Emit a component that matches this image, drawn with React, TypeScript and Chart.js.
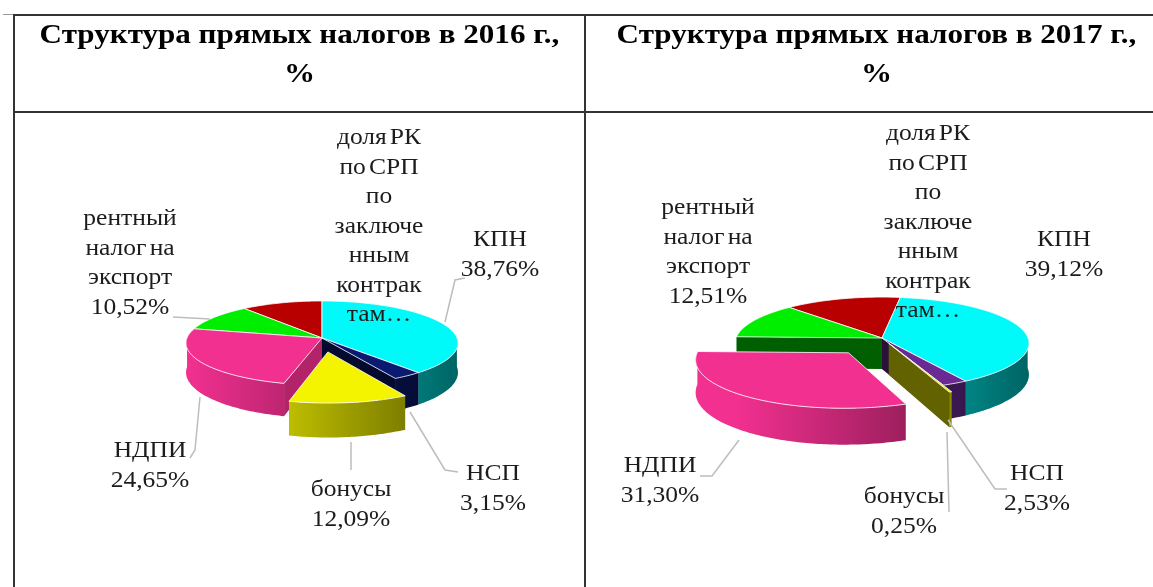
import React, { useEffect, useRef } from "react";
import { Chart, registerables } from "chart.js";

Chart.register(...registerables);

const categories = ["КПН", "НСП", "бонусы", "НДПИ", "рентный налог на экспорт", "доля РК по СРП по заключенным контрактам"];
const values2016 = [38.76, 3.15, 12.09, 24.65, 10.52, 10.83];
const values2017 = [39.12, 2.53, 0.25, 31.3, 12.51, 14.29];
const colors2016 = ["#00FAFA", "#0A1A70", "#F4F400", "#F23090", "#00EE00", "#B80000"];
const colors2017 = ["#00FAFA", "#6A2A94", "#F4F400", "#F23090", "#00EE00", "#B80000"];
const offsets2016 = [0, 0, 44, 0, 0, 0];
const offsets2017 = [0, 0, 18, 56, 0, 0];
const labelLines2016 = [
  ["КПН", "38,76%"],
  ["НСП", "3,15%"],
  ["бонусы", "12,09%"],
  ["НДПИ", "24,65%"],
  ["рентный", "налог на", "экспорт", "10,52%"],
  ["доля РК", "по СРП", "по", "заключе", "нным", "контрак", "там…"],
];
const labelLines2017 = [
  ["КПН", "39,12%"],
  ["НСП", "2,53%"],
  ["бонусы", "0,25%"],
  ["НДПИ", "31,30%"],
  ["рентный", "налог на", "экспорт", "12,51%"],
  ["доля РК", "по СРП", "по", "заключе", "нным", "контрак", "там…"],
];

// Canvas-relative placement of the labels: centre x, first line centre y.
const labelPos2016 = [[486, 127], [479, 361], [337, 377], [136, 338], [116, 106], [365, 25]];
const labelPos2017 = [[478, 127], [451, 361], [318, 384], [74, 353], [122, 95], [342, 21]];
const leaders2016 = [
  [[431, 209], [441, 167], [451, 165]],
  [[396, 299], [431, 357], [444, 359]],
  [[337, 329], [337, 357]],
  [[186, 284], [181, 337], [176, 345]],
  [[159, 204], [196, 206]],
];
const leaders2017 = [
  [[362, 307], [409, 376], [421, 376]],
  [[361, 319], [363, 399]],
  [[153, 327], [126, 363], [114, 363]],
];

type Cfg = {
  values: number[];
  colors: string[];
  offsets: number[];
  lines: string[][];
  pos: number[][];
  leaders: number[][][];
  radius: number;
  rotation: number;
  persp: number;
  tilt: number;
  depth: number;
  padLeft: number;
  padBottom: number;
};

const cfg2016: Cfg = {
  values: values2016, colors: colors2016, offsets: offsets2016, lines: labelLines2016,
  pos: labelPos2016, leaders: leaders2016, radius: 135, rotation: 0, persp: 0.119, tilt: 0.307,
  depth: 29, padLeft: 45, padBottom: 24,
};
const cfg2017: Cfg = {
  values: values2017, colors: colors2017, offsets: offsets2017, lines: labelLines2017,
  pos: labelPos2017, leaders: leaders2017, radius: 146, rotation: 8, persp: 0.113, tilt: 0.312,
  depth: 31, padLeft: 25, padBottom: 24,
};

const shade = (hex: string, b: number) => {
  const n = parseInt(hex.slice(1), 16);
  const c = [(n >> 16) & 255, (n >> 8) & 255, n & 255].map((v) => Math.round(v * b));
  return `rgb(${c[0]},${c[1]},${c[2]})`;
};

const pie3d = (c: Cfg) => ({
  id: "pie3d",
  beforeDatasetDraw(chart: any) {
    const ctx: CanvasRenderingContext2D = chart.ctx;
    const arcs: any[] = chart.getDatasetMeta(0).data;
    const items = arcs.map((a, i) => {
      const mid = (a.startAngle + a.endAngle) / 2;
      const off = a.options.offset || 0;
      return { a, i, mid, ox: Math.cos(mid) * off, oy: Math.sin(mid) * off };
    });
    items.sort((p, q) => Math.sin(p.mid) - Math.sin(q.mid));
    const project = (a: any, X: number, Y: number, d: number) => {
      const s = 1 / (1 - (c.persp * Y) / a.outerRadius);
      return [a.x + X * s, a.y + Y * c.tilt * s + d * s];
    };
    const poly = (pts: number[][], fill: any) => {
      ctx.beginPath();
      pts.forEach((p, k) => (k ? ctx.lineTo(p[0], p[1]) : ctx.moveTo(p[0], p[1])));
      ctx.closePath();
      ctx.fillStyle = fill;
      ctx.fill();
    };
    ctx.save();
    for (const { a, i, ox, oy } of items) {
      const R = a.outerRadius;
      const col = c.colors[i];
      const steps = Math.max(2, Math.ceil(((a.endAngle - a.startAngle) * 180) / Math.PI));
      const angles: number[] = [];
      for (let k = 0; k <= steps; k++) angles.push(a.startAngle + ((a.endAngle - a.startAngle) * k) / steps);
      const rim = (t: number, d: number) => project(a, ox + R * Math.cos(t), oy + R * Math.sin(t), d);
      const apexTop = project(a, ox, oy, 0);
      const apexBot = project(a, ox, oy, c.depth);

      // radial cut faces
      const face = (t: number, normal: number) => {
        if (Math.sin(normal) <= 0) return;
        const lit = Math.max(0, Math.cos(normal));
        poly([apexTop, rim(t, 0), rim(t, c.depth), apexBot], shade(col, 0.4 + 0.35 * lit));
      };
      face(a.startAngle, a.startAngle - Math.PI / 2);
      face(a.endAngle, a.endAngle + Math.PI / 2);

      // outer wall, front half only
      const front = angles.filter((t) => Math.sin(t) > -0.02);
      if (front.length > 1) {
        const grad = ctx.createLinearGradient(a.x - R, 0, a.x + R, 0);
        grad.addColorStop(0, shade(col, 1));
        grad.addColorStop(1, shade(col, 0.4));
        poly([...front.map((t) => rim(t, 0)), ...front.slice().reverse().map((t) => rim(t, c.depth))], grad);
      }

      // top face
      const top = [apexTop, ...angles.map((t) => rim(t, 0))];
      poly(top, col);
      ctx.strokeStyle = "rgba(255,255,255,0.8)";
      ctx.lineWidth = 1;
      ctx.stroke();
    }
    ctx.restore();
    return false;
  },
  afterDraw(chart: any) {
    const ctx: CanvasRenderingContext2D = chart.ctx;
    ctx.save();
    ctx.strokeStyle = "#bdbdbd";
    ctx.lineWidth = 1.5;
    for (const pts of c.leaders) {
      ctx.beginPath();
      pts.forEach((p, k) => (k ? ctx.lineTo(p[0], p[1]) : ctx.moveTo(p[0], p[1])));
      ctx.stroke();
    }
    ctx.fillStyle = "#1c1c1c";
    ctx.font = "23px 'Liberation Serif'";
    (ctx as any).wordSpacing = "-3px";
    ctx.textAlign = "center";
    ctx.textBaseline = "middle";
    c.lines.forEach((lines, i) => {
      lines.forEach((t, k) => {
        ctx.save();
        ctx.translate(c.pos[i][0], c.pos[i][1] + k * 29.5);
        ctx.scale(1.11, 1);
        ctx.fillText(t, 0, 0);
        ctx.restore();
      });
    });
    ctx.restore();
  },
});

function Pie({ c, left, width }: { c: Cfg; left: number; width: number }) {
  const ref = useRef<HTMLCanvasElement>(null);
  useEffect(() => {
    const chart = new Chart(ref.current as HTMLCanvasElement, {
      type: "pie",
      data: {
        labels: categories,
        datasets: [{ data: c.values, backgroundColor: c.colors, offset: c.offsets, borderWidth: 0 }],
      },
      options: {
        animation: false,
        responsive: false,
        rotation: c.rotation,
        radius: c.radius,
        layout: { padding: { left: c.padLeft, bottom: c.padBottom } },
        plugins: { legend: { display: false }, tooltip: { enabled: false } },
      } as any,
      plugins: [pie3d(c)],
    });
    return () => chart.destroy();
  }, [c]);
  return <canvas ref={ref} width={width} height={474} style={{ position: "absolute", left, top: 113, width, height: 474 }} />;
}

const line = (left: number, top: number, width: number, height: number, bg = "#333"): React.CSSProperties => ({
  position: "absolute", left, top, width, height, background: bg,
});
const title = (left: number, width: number): React.CSSProperties => ({
  position: "absolute", left, width, top: 14, textAlign: "center",
  font: "bold 28px/39px 'Liberation Serif'", color: "#000", transform: "scaleX(1.11)", whiteSpace: "nowrap",
});

export default function App() {
  return (
    <div style={{ position: "fixed", inset: 0, background: "#fff", overflow: "hidden" }}>
      <Pie c={cfg2016} left={14} width={571} />
      <Pie c={cfg2017} left={586} width={567} />
      <div style={line(13, 14, 1140, 2)} />
      <div style={line(3, 14, 10, 1, "#999")} />
      <div style={line(13, 14, 2, 573)} />
      <div style={line(13, 111, 1140, 2)} />
      <div style={line(584, 14, 2, 573)} />
      <div style={title(15, 569)}>Структура прямых налогов в 2016 г.,<br />%</div>
      <div style={title(592, 569)}>Структура прямых налогов в 2017 г.,<br />%</div>
    </div>
  );
}
